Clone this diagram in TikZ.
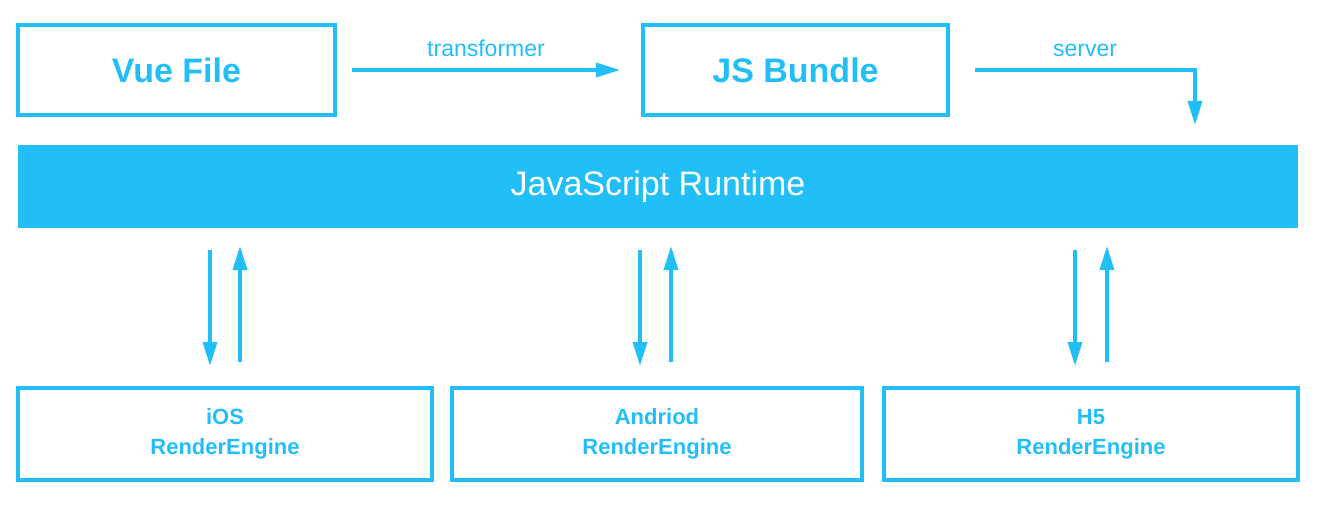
\documentclass[tikz,border=0pt]{standalone}
\usepackage{fontspec}
\setmainfont{Liberation Sans}
\usetikzlibrary{arrows.meta}
\definecolor{wb}{HTML}{22BEF8}
\begin{document}
\begin{tikzpicture}[x=1pt,y=-1pt,
  box/.style={draw=wb,line width=3.5pt,text=wb,inner sep=0pt},
  arr/.style={draw=wb,line width=3.5pt,-{Triangle[length=24pt,width=14pt]}},
  lbl/.style={text=wb,font=\fontsize{23}{24}\selectfont}]
\useasboundingbox (0,0) rectangle (1328,508);
\node[box,minimum width=317pt,minimum height=90pt,font=\fontsize{34}{36}\selectfont\bfseries] (vue) at (176.5,70) {Vue File};
\node[box,minimum width=305pt,minimum height=90pt,font=\fontsize{34}{36}\selectfont\bfseries] (js) at (795.5,70) {JS Bundle};
\node[fill=wb,text=white,minimum width=1280pt,minimum height=83pt,inner sep=0pt,font=\fontsize{34}{36}\selectfont] (rt) at (658,186.5) {JavaScript Runtime};
\node[box,minimum width=414pt,minimum height=92pt,align=center,font=\fontsize{22}{30}\selectfont\bfseries] (ios) at (225,434) {iOS\\RenderEngine};
\node[box,minimum width=410pt,minimum height=92pt,align=center,font=\fontsize{22}{30}\selectfont\bfseries] (and) at (657,434) {Andriod\\RenderEngine};
\node[box,minimum width=414pt,minimum height=92pt,align=center,font=\fontsize{22}{30}\selectfont\bfseries] (h5) at (1091,434) {H5\\RenderEngine};
\coordinate (t1) at (352,70); \coordinate (t2) at (620,70);
\draw[arr] (t1) -- node[lbl,above=8pt]{transformer} (t2);
\coordinate (s1) at (975,70); \coordinate (s2) at (1195,70); \coordinate (s3) at (1195,125);
\draw[arr] (s1) -- node[lbl,above=8pt]{server} (s2) -- (s3);
\foreach \n/\a/\b in {i/210/240,a/640/671,h/1075/1107}{
  \coordinate (\n d1) at (\a,250); \coordinate (\n d2) at (\a,366);
  \coordinate (\n u1) at (\b,362); \coordinate (\n u2) at (\b,246);
  \draw[arr] (\n d1) -- (\n d2);
  \draw[arr] (\n u1) -- (\n u2);
}
\end{tikzpicture}
\end{document}
